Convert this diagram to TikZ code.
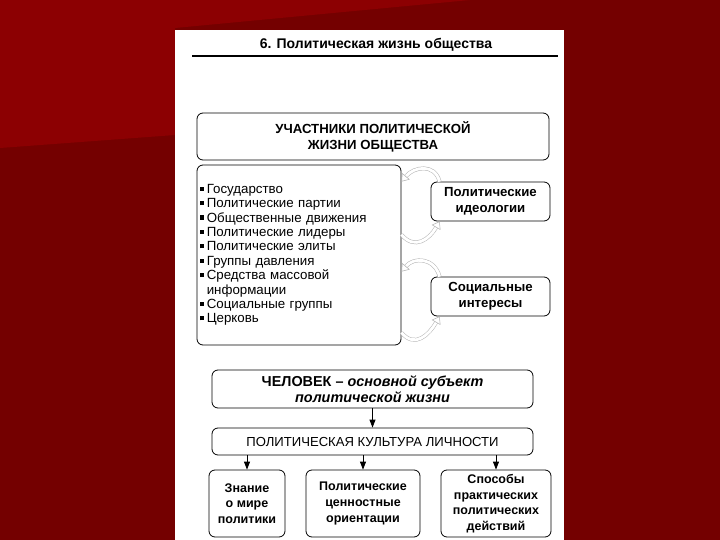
\documentclass[tikz,border=0pt]{standalone}
\usepackage{fontspec}
\setmainfont{Liberation Sans}
\usetikzlibrary{arrows.meta}
\definecolor{slidered}{RGB}{116,0,0}
\definecolor{slidelight}{RGB}{140,0,2}
\newcommand{\sqbullet}{\rule[2.6pt]{4.2pt}{4.2pt}\hspace{2.6pt}}

\begin{document}
\begin{tikzpicture}[x=1pt,y=1pt,
  box/.style={draw, rounded corners=6pt, line width=0.8pt, align=center, inner sep=2pt},
  down/.style={-{Triangle[length=8pt,width=6pt]}, line width=0.8pt},
  turn/.style={draw=gray!60, double=white, double distance=2.8pt, line width=0.5pt, -{Triangle[open,length=7pt,width=10pt]}}]
  % фон слайда
  \fill[slidered] (0,0) rectangle (720,-540);
  \fill[slidelight] (0,0) -- (0,-148) -- (175,-135) -- (175,-28) -- (470,0) -- cycle;
  \useasboundingbox (0,0) rectangle (720,-540);
  % лист
  \fill[white] (175,-30) rectangle (564,-540);

  % заголовок
  \node[font=\bfseries\fontsize{14}{16}\selectfont] (title) at (376,-45) {6. Политическая жизнь общества};
  \draw[line width=1.8pt] (192,-56) -- (558,-56);

  % участники политической жизни
  \node[box, minimum width=352pt, minimum height=47pt, font=\bfseries\fontsize{13.2}{16}\selectfont] (participants) at (373,-136.5) {УЧАСТНИКИ ПОЛИТИЧЕСКОЙ\\ЖИЗНИ ОБЩЕСТВА};
  \node[box, minimum width=204pt, minimum height=180pt, text width=198pt, align=left, font=\fontsize{13.3}{14.4}\selectfont] (members) at (299,-255) {%
    \sqbullet Государство\\
    \sqbullet Политические партии\\
    \sqbullet Общественные движения\\
    \sqbullet Политические лидеры\\
    \sqbullet Политические элиты\\
    \sqbullet Группы давления\\
    \sqbullet Средства массовой\\
    \hspace*{6.8pt}информации\\
    \sqbullet Социальные группы\\
    \sqbullet Церковь};
  \node[box, minimum width=119pt, minimum height=39pt, font=\bfseries\fontsize{13.2}{15.5}\selectfont] (ideology) at (490.5,-201.5) {Политические\\идеологии};
  \node[box, minimum width=119pt, minimum height=39pt, font=\bfseries\fontsize{13.2}{15.5}\selectfont] (interests) at (490.5,-296.5) {Социальные\\интересы};

  % взаимное влияние
  \draw[turn] ([xshift=9pt]ideology.north west) to[out=105,in=50,looseness=1.3] ([yshift=-17pt]members.north east);
  \draw[turn] ([yshift=-70pt]members.north east) to[out=-50,in=-120,looseness=1.3] ([xshift=9pt]ideology.south west);
  \draw[turn] ([xshift=9pt]interests.north west) to[out=105,in=50,looseness=1.3] ([yshift=-107pt]members.north east);
  \draw[turn] ([yshift=-168pt]members.north east) to[out=-50,in=-120,looseness=1.3] ([xshift=9pt]interests.south west);

  % человек и его политическая культура
  \node[box, minimum width=321pt, minimum height=38pt, font=\bfseries\fontsize{14.4}{16}\selectfont] (human) at (372.5,-389) {ЧЕЛОВЕК – \textit{основной субъект}\\\textit{политической жизни}};
  \node[box, minimum width=321pt, minimum height=27pt, font=\fontsize{13.1}{15}\selectfont] (culture) at (372.5,-441.5) {ПОЛИТИЧЕСКАЯ КУЛЬТУРА ЛИЧНОСТИ};
  \node[box, minimum width=76pt, minimum height=67pt, font=\bfseries\fontsize{12.5}{15.6}\selectfont] (knowledge) at (247,-503.5) {Знание\\о мире\\политики};
  \node[box, minimum width=114pt, minimum height=67pt, font=\bfseries\fontsize{12.5}{15.6}\selectfont] (values) at (363,-503.5) {Политические\\ценностные\\ориентации};
  \node[box, minimum width=110pt, minimum height=67pt, font=\bfseries\fontsize{12.5}{15.6}\selectfont] (ways) at (496,-503.5) {Способы\\практических\\политических\\действий};

  \draw[down] (human) -- (culture);
  \draw[down] (knowledge.north |- culture.south) -- (knowledge);
  \draw[down] (values.north |- culture.south) -- (values);
  \draw[down] (ways.north |- culture.south) -- (ways);
\end{tikzpicture}
\end{document}
